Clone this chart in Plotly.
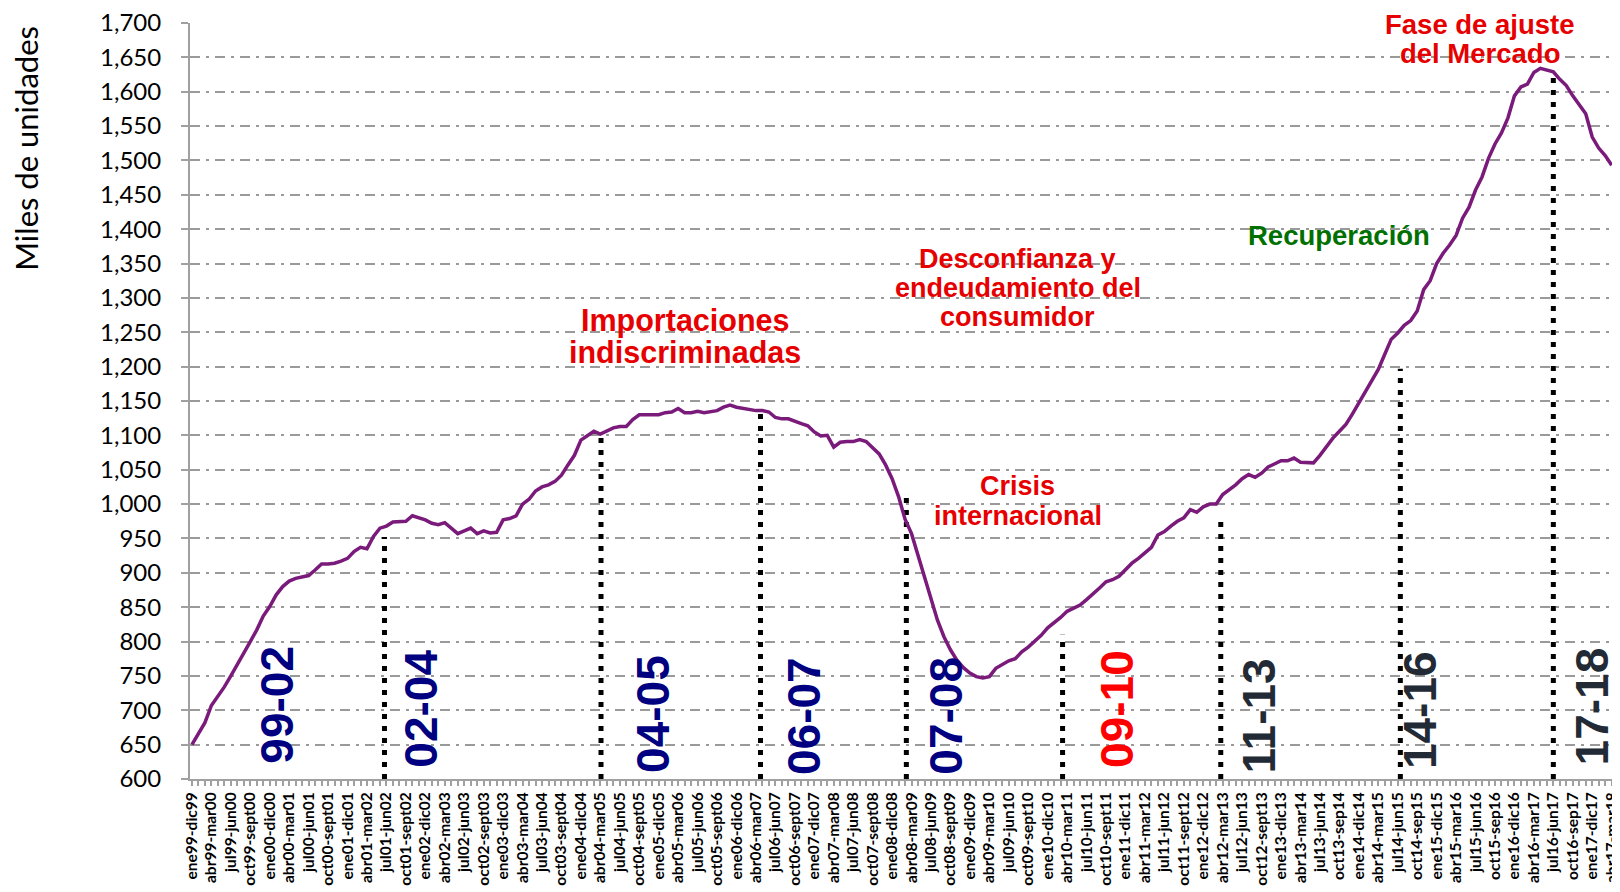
import plotly.graph_objects as go

# Ventas acumuladas 12 meses (miles de unidades), dic-99 ... mar-18
ventas = [
    650, 666, 682, 707, 720, 734, 750, 766, 784, 800, 817, 837,
    851, 868, 880, 888, 892, 894, 896, 904, 913, 913, 914, 917,
    921, 931, 937, 935, 953, 965, 968, 974, 974, 975, 983, 980,
    977, 972, 970, 973, 965, 957, 961, 965, 957, 961, 958, 959,
    977, 979, 983, 1000, 1007, 1019, 1025, 1028, 1033, 1042, 1057, 1071,
    1093, 1100, 1106, 1102, 1107, 1111, 1113, 1113, 1123, 1130, 1130, 1130,
    1130, 1133, 1134, 1139, 1133, 1133, 1135, 1133, 1135, 1136, 1141, 1144,
    1141, 1139, 1137, 1136, 1136, 1134, 1126, 1124, 1124, 1120, 1117, 1114,
    1105, 1099, 1100, 1083, 1090, 1091, 1091, 1094, 1091, 1082, 1073, 1057,
    1037, 1011, 978, 957, 926, 893, 860, 831, 807, 788, 773, 762,
    754, 749, 747, 749, 761, 767, 772, 775, 785, 792, 801, 809,
    820, 827, 835, 844, 848, 853, 861, 869, 878, 887, 890, 895,
    905, 914, 921, 929, 937, 955, 960, 968, 975, 980, 992, 988,
    996, 1000, 1000, 1014, 1021, 1028, 1037, 1043, 1039, 1045, 1054, 1059,
    1063, 1063, 1067, 1061, 1060, 1060, 1071, 1084, 1096, 1106, 1116, 1131,
    1147, 1162, 1179, 1196, 1218, 1240, 1249, 1260, 1267, 1281, 1312, 1325,
    1350, 1365, 1377, 1391, 1416, 1432, 1457, 1476, 1503, 1524, 1540, 1562,
    1594, 1607, 1611, 1628, 1634, 1632, 1629, 1618, 1609, 1594, 1581, 1568,
    1534, 1518, 1507, 1493,
]

# etiquetas del eje x (una cada 3 meses)
etiquetas = [
    "ene99-dic99", "abr99-mar00", "jul99-jun00", "oct99-sept00",
    "ene00-dic00", "abr00-mar01", "jul00-jun01", "oct00-sept01",
    "ene01-dic01", "abr01-mar02", "jul01-jun02", "oct01-sept02",
    "ene02-dic02", "abr02-mar03", "jul02-jun03", "oct02-sept03",
    "ene03-dic03", "abr03-mar04", "jul03-jun04", "oct03-sept04",
    "ene04-dic04", "abr04-mar05", "jul04-jun05", "oct04-sept05",
    "ene05-dic05", "abr05-mar06", "jul05-jun06", "oct05-sept06",
    "ene06-dic06", "abr06-mar07", "jul06-jun07", "oct06-sept07",
    "ene07-dic07", "abr07-mar08", "jul07-jun08", "oct07-sept08",
    "ene08-dic08", "abr08-mar09", "jul08-jun09", "oct08-sept09",
    "ene09-dic09", "abr09-mar10", "jul09-jun10", "oct09-sept10",
    "ene10-dic10", "abr10-mar11", "jul10-jun11", "oct10-sept11",
    "ene11-dic11", "abr11-mar12", "jul11-jun12", "oct11-sept12",
    "ene12-dic12", "abr12-mar13", "jul12-jun13", "oct12-sept13",
    "ene13-dic13", "abr13-mar14", "jul13-jun14", "oct13-sep14",
    "ene14-dic14", "abr14-mar15", "jul14-jun15", "oct14-sep15",
    "ene15-dic15", "abr15-mar16", "jul15-jun16", "oct15-sep16",
    "ene16-dic16", "abr16-mar17", "jul16-jun17", "oct16-sep17",
    "ene17-dic17", "abr17-mar18",
]

# cortes de periodo (líneas punteadas): posición en meses y altura
cortes_x = [29.7, 63.1, 87.7, 110.2, 134.3, 158.7, 186.4, 210.0]
cortes_tope = [952, 1103, 1133, 1010, 810, 978, 1197, 1628]

periodos = ["99-02", "02-04", "04-05", "06-07", "07-08", "09-10", "11-13", "14-16", "17-18"]
periodos_color = ["#000080"] * 5 + ["#FF0000"] + ["#222A35"] * 3

meses = list(range(len(ventas)))

fig = go.Figure()

# líneas punteadas verticales
xs, ys = [], []
for cx, top in zip(cortes_x, cortes_tope):
    xs += [cx, cx, None]
    ys += [600, top, None]
fig.add_trace(go.Scatter(
    x=xs, y=ys, mode="lines",
    line=dict(color="black", width=5, dash="5px,7px"),
    hoverinfo="skip", showlegend=False,
))

# serie principal
fig.add_trace(go.Scatter(
    x=meses, y=ventas, mode="lines",
    line=dict(color="#7A1A7A", width=3.5),
    showlegend=False,
))

# etiquetas de periodo (posición en meses / valor del eje)
pos_periodos = [(13.1, 708), (35.4, 703), (71.0, 695), (94.3, 692), (116.3, 692),
                (142.7, 702), (164.6, 691), (189.4, 700), (215.9, 705)]
for txt, (px, py), col in zip(periodos, pos_periodos, periodos_color):
    fig.add_annotation(
        x=px, y=py, text=f"<b>{txt}</b>", textangle=-90, showarrow=False,
        font=dict(family="Liberation Sans, Arial", size=46, color=col),
    )

rojo = "#E60000"
textos = [
    ("Importaciones", 76.0, 1267, 30.5, rojo),
    ("indiscriminadas", 76.0, 1221, 30.5, rojo),
    ("Desconfianza y", 127.4, 1357, 27, rojo),
    ("endeudamiento del", 127.4, 1314, 27, rojo),
    ("consumidor", 127.4, 1272, 27, rojo),
    ("Crisis", 127.4, 1026, 27, rojo),
    ("internacional", 127.4, 982, 27, rojo),
    ("Recuperación", 176.9, 1391, 27.5, "#007000"),
    ("del Mercado", 198.7, 1655, 27.5, rojo),
]
for txt, tx, ty, sz, col in textos:
    fig.add_annotation(
        x=tx, y=ty, text=f"<b>{txt}</b>", showarrow=False,
        font=dict(family="Liberation Sans, Arial", size=sz, color=col),
    )
# por encima del área del gráfico
fig.add_annotation(
    x=198.7, xref="x", y=0.9985, yref="paper", yanchor="middle",
    text="<b>Fase de ajuste</b>", showarrow=False,
    font=dict(family="Liberation Sans, Arial", size=27.5, color=rojo),
)

# título del eje y
fig.add_annotation(
    xref="paper", yref="paper", x=-0.1152, y=0.834, text="Miles de unidades",
    textangle=-90, showarrow=False, xanchor="center", yanchor="middle",
    font=dict(family="Lato", size=31, color="black"),
)

fig.update_layout(
    template="none",
    width=1612, height=884,
    margin=dict(l=182, r=8, t=15, b=113),
    plot_bgcolor="white", paper_bgcolor="white",
    showlegend=False,
    xaxis=dict(
        range=[-0.3, 219.05],
        tickmode="array",
        tickvals=meses[::3],
        ticktext=etiquetas,
        tickangle=-90,
        tickfont=dict(family="Lato", size=15.5, color="black", weight="bold"),
        ticks="outside", ticklen=5, tickcolor="#A0A0A0", tickwidth=1.5,
        minor=dict(dtick=1, tick0=0, ticks="outside", ticklen=5, tickcolor="#A0A0A0", tickwidth=1.5),
        showline=True, linecolor="#A0A0A0", linewidth=2,
        showgrid=False, zeroline=False, automargin=False,
        ticklabeloverflow="allow",
    ),
    yaxis=dict(
        range=[600, 1700],
        dtick=50,
        tickformat=",",
        tickfont=dict(family="Lato", size=24, color="black"),
        ticks="outside", ticklen=7, tickcolor="#A0A0A0", tickwidth=1.5,
        ticklabelstandoff=15,
        showline=True, linecolor="#A0A0A0", linewidth=2,
        showgrid=True, gridcolor="#9A9A9A", gridwidth=1.5,
        griddash="10px,6px,3px,6px",
        zeroline=False, automargin=False,
        ticklabeloverflow="allow",
    ),
)

fig.write_html("out.html")
